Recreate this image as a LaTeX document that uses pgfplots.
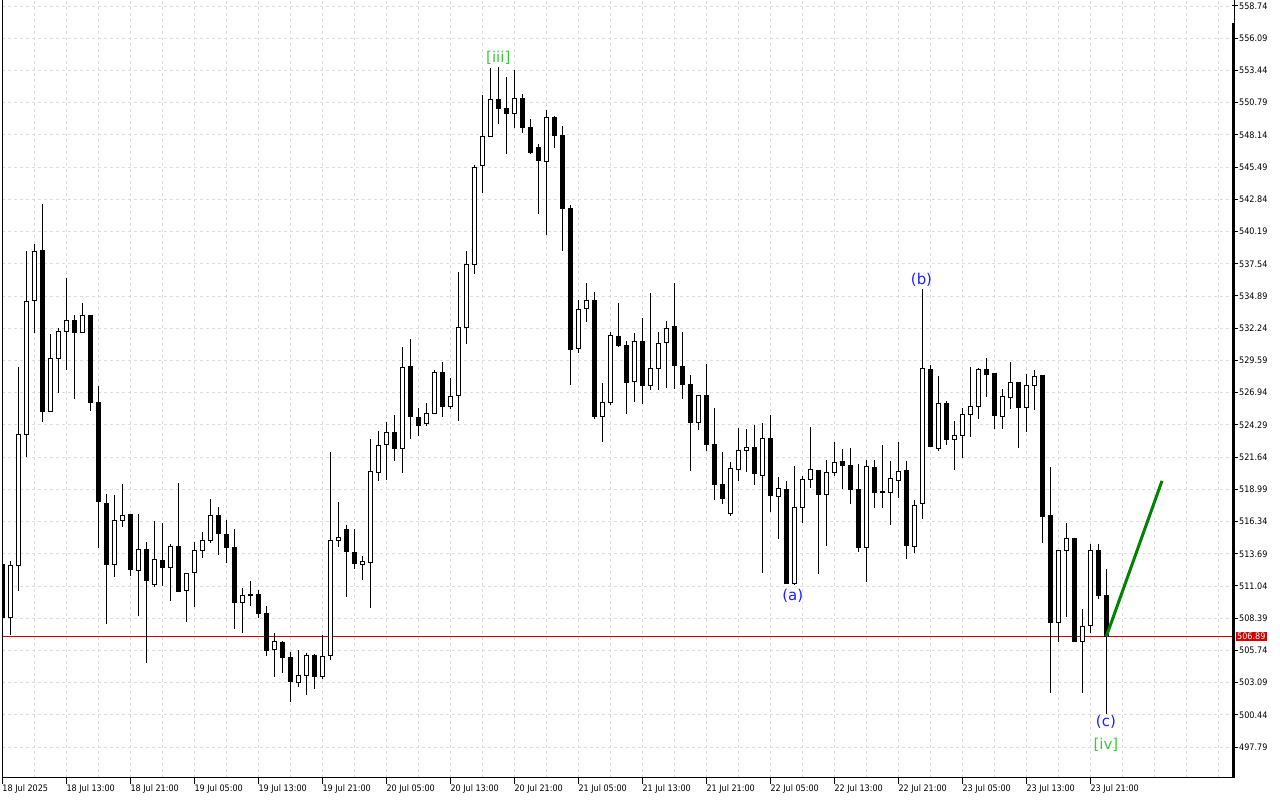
\documentclass[border=0pt]{standalone}
\usepackage{pgfplots}
\pgfplotsset{compat=1.18}
\usepackage{pgfplotstable}
\usepackage{fontspec}
\setmainfont{Liberation Sans}
\newfontfamily\labfont{DejaVu Sans}
\newfontfamily\tickfont{DejaVu Sans Condensed}
\definecolor{gridc}{RGB}{222,222,222}
\definecolor{pricered}{RGB}{210,0,0}
\definecolor{wavegreen}{RGB}{60,200,60}
\definecolor{waveblue}{RGB}{30,30,255}
\definecolor{trendgreen}{RGB}{0,130,0}

\pgfplotstableread{
i o h l c
0 512.85 513.02 508.08 508.44
1 508.44 513.10 507.01 512.69
2 512.75 529.05 510.66 523.52
3 523.52 538.59 521.63 534.46
4 534.54 539.17 531.87 538.57
5 538.67 542.46 524.55 525.41
6 525.41 531.77 525.41 529.77
7 529.77 532.26 526.89 531.99
8 531.99 536.37 528.78 532.89
9 532.89 533.30 526.44 531.87
10 531.87 534.29 531.87 533.30
11 533.30 533.35 525.46 526.15
12 526.15 527.47 514.19 517.98
13 517.84 518.61 507.92 512.79
14 512.79 518.53 511.81 516.41
15 516.45 519.43 515.92 516.86
16 516.96 517.00 511.89 512.38
17 512.33 516.96 508.58 514.06
18 514.06 514.69 504.73 511.48
19 511.15 516.36 510.99 513.24
20 513.18 516.25 511.04 512.56
21 512.58 514.50 509.83 514.31
22 514.31 519.49 510.55 510.57
23 510.69 512.12 508.11 512.09
24 512.17 514.66 509.34 513.98
25 513.98 515.48 513.37 514.80
26 514.80 518.20 514.55 516.86
27 516.86 517.54 513.62 515.38
28 515.29 516.45 512.91 514.19
29 514.25 515.73 507.48 509.70
30 509.70 510.90 507.20 510.28
31 510.38 511.43 509.42 510.25
32 510.36 510.69 508.39 508.76
33 508.80 509.40 505.31 505.72
34 505.86 507.15 503.58 506.46
35 506.36 506.54 503.86 505.18
36 505.18 505.64 501.48 503.17
37 503.12 505.75 502.76 503.70
38 503.70 505.53 502.12 505.34
39 505.34 505.48 502.55 503.58
40 503.58 507.01 503.37 505.26
41 505.34 522.06 504.96 514.83
42 514.80 517.95 514.27 515.07
43 515.73 516.06 510.14 513.86
44 513.81 515.73 512.47 512.88
45 512.83 513.51 511.54 513.02
46 512.96 523.13 509.26 520.47
47 520.39 523.79 519.70 522.61
48 522.70 524.50 519.76 523.68
49 523.68 525.08 521.32 522.33
50 522.33 530.67 520.36 529.00
51 529.13 531.36 523.16 524.97
52 524.94 525.68 523.38 524.28
53 524.39 526.07 524.20 525.24
54 525.24 528.81 525.24 528.62
55 528.62 529.46 524.97 525.79
56 525.79 528.15 525.62 526.64
57 526.69 536.86 524.64 532.32
58 532.32 538.57 530.97 537.50
59 537.50 545.66 536.73 545.47
60 545.64 551.42 543.39 548.02
61 547.99 553.64 547.94 551.07
62 551.07 553.70 549.06 550.29
63 550.33 552.90 546.59 549.92
64 549.92 553.45 548.73 551.15
65 551.15 551.50 548.32 548.73
66 548.76 549.50 546.59 546.68
67 547.12 547.39 541.66 546.02
68 545.97 550.19 539.93 549.59
69 549.61 549.69 547.09 548.07
70 548.13 548.85 538.62 542.07
71 542.10 542.35 527.60 530.48
72 530.59 534.56 530.23 533.80
73 533.88 535.96 532.78 534.54
74 534.54 535.20 524.75 524.97
75 525.00 527.74 522.91 526.15
76 526.15 531.93 525.90 531.66
77 531.60 534.32 530.72 530.80
78 530.86 531.19 525.23 527.78
79 527.84 531.85 526.20 531.19
80 531.19 533.06 526.01 527.52
81 527.55 535.14 527.19 528.95
82 528.95 531.93 527.19 531.00
83 531.08 532.89 527.35 532.24
84 532.40 535.96 527.27 529.16
85 529.11 531.93 526.44 527.60
86 527.63 528.37 520.50 524.47
87 524.47 526.76 523.90 526.73
88 526.73 529.27 522.17 522.70
89 522.70 525.66 518.14 519.37
90 519.41 522.04 517.81 518.22
91 517.03 521.21 516.82 520.69
92 520.64 524.01 519.70 522.20
93 522.20 523.93 520.44 522.45
94 522.45 524.26 519.37 520.28
95 520.15 524.42 512.14 523.19
96 523.19 525.08 517.10 518.47
97 518.42 519.98 514.93 519.08
98 518.99 519.65 511.24 511.27
99 511.29 520.91 511.13 517.51
100 517.51 520.09 516.20 519.82
101 519.82 524.14 519.13 520.61
102 520.56 520.60 512.05 518.55
103 518.55 521.40 514.36 520.39
104 520.39 522.88 520.09 521.21
105 521.24 522.31 519.02 520.94
106 520.97 522.37 517.81 518.96
107 518.99 521.07 513.86 514.23
108 514.23 521.40 511.40 520.89
109 520.80 521.40 517.48 518.75
110 518.80 522.64 517.48 518.75
111 518.75 521.32 516.08 519.90
112 519.76 522.88 518.30 520.47
113 520.50 521.32 513.29 514.36
114 514.31 518.12 513.78 517.68
115 517.81 535.44 516.58 528.95
116 528.89 529.19 522.47 522.50
117 522.37 528.31 522.14 526.07
118 526.07 526.23 522.64 523.07
119 523.11 524.61 520.61 523.46
120 523.44 525.66 521.59 525.16
121 525.16 529.03 523.32 525.82
122 525.82 528.95 524.80 528.86
123 528.86 529.77 526.61 528.45
124 528.53 528.56 523.98 525.05
125 525.00 527.22 523.98 526.64
126 526.56 529.44 525.62 527.79
127 527.79 527.82 522.42 525.71
128 525.74 528.45 523.73 527.55
129 527.55 528.78 525.54 528.29
130 528.39 528.42 514.60 516.74
131 516.86 520.83 502.27 508.02
132 508.02 514.01 506.46 513.98
133 513.98 516.20 508.52 514.93
134 514.97 515.00 506.41 506.44
135 506.46 509.13 502.27 507.75
136 507.78 514.50 507.20 513.92
137 513.92 514.50 509.99 510.22
138 510.28 512.42 500.49 506.89
}\candles

\begin{document}
\begin{tikzpicture}
\begin{axis}[
  at={(0,0)}, anchor=south west,
  scale only axis, width=1230bp, height=778bp,
  xmin=-0.0375, xmax=153.7125,
  ymin=495.25, ymax=559.233,
  axis line style={draw=none},
  clip mode=individual,
  xtick={0,8,...,136},
  xticklabels={18 Jul 2025,18 Jul 13:00,18 Jul 21:00,19 Jul 05:00,19 Jul 13:00,19 Jul 21:00,20 Jul 05:00,20 Jul 13:00,20 Jul 21:00,21 Jul 05:00,21 Jul 13:00,21 Jul 21:00,22 Jul 05:00,22 Jul 13:00,22 Jul 21:00,23 Jul 05:00,23 Jul 13:00,23 Jul 21:00},
  minor xtick={4,8,...,152},
  ytick={497.79,500.44,503.09,505.74,508.39,511.04,513.69,516.34,518.99,521.64,524.29,526.94,529.59,532.24,534.89,537.54,540.19,542.84,545.49,548.14,550.79,553.44,556.09,558.74},
  yticklabels={497.79,500.44,503.09,505.74,508.39,511.04,513.69,516.34,518.99,521.64,524.29,526.94,529.59,532.24,534.89,537.54,540.19,542.84,545.49,548.14,550.79,553.44,556.09,558.74},
  xtick pos=left, ytick pos=right,
  xticklabel pos=left, yticklabel pos=right,
  tick align=outside,
  major tick length=6bp, minor tick length=0pt,
  tick style={black, line width=1bp},
  ymajorgrids, xminorgrids,
  major grid style={gridc, dash pattern=on 3bp off 3bp, line width=0.8bp},
  minor grid style={gridc, dash pattern=on 3bp off 3bp, line width=0.8bp},
  xticklabel style={anchor=north west, inner sep=0pt, font=\tickfont\fontsize{9}{10}\selectfont, yshift=-1bp},
  yticklabel style={anchor=west, inner sep=0pt, font=\tickfont\fontsize{9}{10}\selectfont, xshift=1bp},
]
% current price line
\addplot[pricered, line width=0.9bp, forget plot] coordinates {(-0.0375,506.89) (153.7125,506.89)};
% wicks
\addplot[draw=none, mark=none, forget plot,
  error bars/.cd, y dir=both, y explicit,
  error bar style={draw=black, line width=1bp}, error mark=none]
  table[x=i, y expr={(\thisrow{h}+\thisrow{l})/2}, y error expr={(\thisrow{h}-\thisrow{l})/2}] {\candles};
% bodies (black)
\addplot[draw=none, mark=none, forget plot,
  error bars/.cd, y dir=both, y explicit,
  error bar style={draw=black, line width=5bp}, error mark=none]
  table[x=i, y expr={(\thisrow{o}+\thisrow{c})/2}, y error expr={abs(\thisrow{o}-\thisrow{c})/2+0.041}] {\candles};
% white interior of rising candles
\addplot[draw=none, mark=none, forget plot,
  error bars/.cd, y dir=both, y explicit,
  error bar style={draw=white, line width=3bp}, error mark=none]
  table[x=i, y expr={ifthenelse(\thisrow{c}>\thisrow{o},(\thisrow{o}+\thisrow{c})/2,400)}, y error expr={ifthenelse(\thisrow{c}>\thisrow{o},max((\thisrow{c}-\thisrow{o})/2-0.041,0),0)}] {\candles};
% projected wave line
\addplot[trendgreen, line width=3bp, forget plot] coordinates {(138,506.89) (144.96,519.68)};

% wave labels
\node[text=wavegreen, font=\labfont\fontsize{15}{17}\selectfont, inner sep=0pt] at (axis cs:62.0,554.46) {[iii]};
\node[text=waveblue, font=\labfont\fontsize{15}{17}\selectfont, inner sep=0pt] at (axis cs:98.8,510.22) {(a)};
\node[text=waveblue, font=\labfont\fontsize{15}{17}\selectfont, inner sep=0pt] at (axis cs:114.9,536.21) {(b)};
\node[text=waveblue, font=\labfont\fontsize{15}{17}\selectfont, inner sep=0pt] at (axis cs:137.95,499.85) {(c)};
\node[text=wavegreen, font=\labfont\fontsize{15}{17}\selectfont, inner sep=0pt] at (axis cs:137.95,498.0) {[iv]};

% frame
\draw[black, line width=1bp] ([xshift=0.5bp]rel axis cs:0,0) -- ([xshift=0.5bp]rel axis cs:0,1);
\draw[black, line width=1bp] (rel axis cs:0,0) -- ([xshift=2.5bp]rel axis cs:1,0);
\draw[black, line width=3bp] ([xshift=1bp]rel axis cs:1,0) -- ([xshift=1bp]rel axis cs:1,0.9704);
\draw[black, line width=1bp] ([xshift=2bp]rel axis cs:1,0.9704) -- ([xshift=2bp]rel axis cs:1,1);
% price tag
\node[fill=pricered, text=white, anchor=west, inner xsep=1.5bp, inner ysep=1.5bp, font=\tickfont\fontsize{9}{10}\selectfont] at ([xshift=3.5bp]axis cs:153.7125,506.89) {506.89};
\end{axis}
\pgfresetboundingbox
\path[use as bounding box] (-2bp,-22bp) rectangle (1278bp,778bp);
\end{tikzpicture}
\end{document}
